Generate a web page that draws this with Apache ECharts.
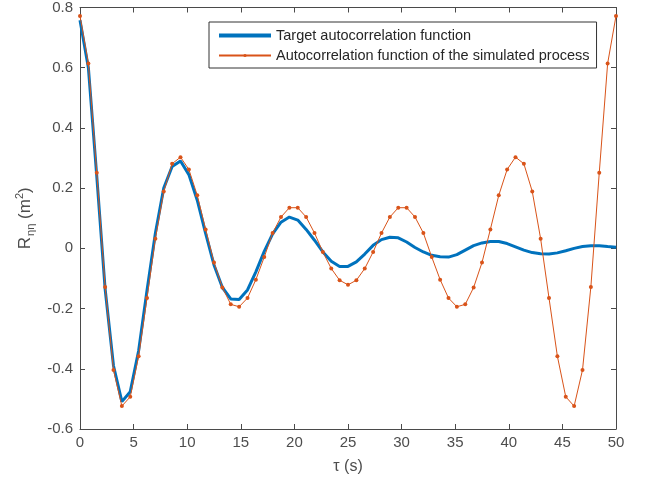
<!DOCTYPE html>
<html>
<head>
<meta charset="utf-8">
<script src="https://cdn.jsdelivr.net/npm/echarts@6/dist/echarts.min.js"></script>
<style>
  html, body { margin: 0; padding: 0; background: #fff; }
  #chart { width: 647px; height: 484px; }
</style>
</head>
<body>
<div id="chart"></div>
<script>
// Time lag tau (s), sampled every 50/64 s
const lags = [
  0.000, 0.781, 1.563, 2.344, 3.125, 3.906, 4.688, 5.469, 6.250, 7.031,
  7.813, 8.594, 9.375, 10.156, 10.938, 11.719, 12.500, 13.281, 14.063, 14.844,
  15.625, 16.406, 17.188, 17.969, 18.750, 19.531, 20.313, 21.094, 21.875, 22.656,
  23.438, 24.219, 25.000, 25.781, 26.563, 27.344, 28.125, 28.906, 29.688, 30.469,
  31.250, 32.031, 32.813, 33.594, 34.375, 35.156, 35.938, 36.719, 37.500, 38.281,
  39.063, 39.844, 40.625, 41.406, 42.188, 42.969, 43.750, 44.531, 45.313, 46.094,
  46.875, 47.656, 48.438, 49.219, 50.000
];

// Target autocorrelation function (m^2)
const targetR = [
  0.758, 0.600, 0.240, -0.135, -0.390, -0.509, -0.476, -0.340, -0.140, 0.050,
  0.200, 0.272, 0.290, 0.245, 0.160, 0.050, -0.055, -0.130, -0.168, -0.170,
  -0.138, -0.078, -0.010, 0.048, 0.087, 0.104, 0.094, 0.063, 0.027, -0.012,
  -0.043, -0.060, -0.060, -0.045, -0.019, 0.010, 0.029, 0.037, 0.035, 0.021,
  0.003, -0.012, -0.023, -0.028, -0.029, -0.021, -0.006, 0.009, 0.018, 0.023,
  0.023, 0.016, 0.005, -0.006, -0.014, -0.018, -0.019, -0.015, -0.008, 0.000,
  0.006, 0.009, 0.009, 0.006, 0.004
];

// Autocorrelation of the simulated process (m^2)
const simulatedR = [
  0.772, 0.614, 0.251, -0.128, -0.404, -0.524, -0.493, -0.358, -0.165, 0.032,
  0.189, 0.281, 0.303, 0.262, 0.176, 0.063, -0.047, -0.130, -0.186, -0.194,
  -0.165, -0.104, -0.029, 0.051, 0.104, 0.135, 0.135, 0.104, 0.051, -0.012,
  -0.067, -0.106, -0.121, -0.106, -0.067, -0.012, 0.051, 0.104, 0.135, 0.135,
  0.104, 0.051, -0.029, -0.104, -0.165, -0.194, -0.186, -0.130, -0.047, 0.063,
  0.176, 0.262, 0.303, 0.281, 0.189, 0.032, -0.165, -0.358, -0.493, -0.524,
  -0.404, -0.128, 0.251, 0.614, 0.772
];

const seriesNames = [
  'Target autocorrelation function',
  'Autocorrelation function of the simulated process'
];

const xTicks = { min: 0, max: 50, interval: 5 };
const yTicks = { min: -0.6, max: 0.8, interval: 0.2 };

const pair = (xs, ys) => xs.map((x, i) => [x, ys[i]]);

const axisGray = '#4a4a4a';
const labelGray = '#4d4d4d';
const blue = '#0072BD';
const orange = '#D95319';
const font = '"Liberation Sans", Arial, Helvetica, sans-serif';

function frameAxis(extra) {
  return Object.assign({
    type: 'value',
    axisLine: { show: true, onZero: false, lineStyle: { color: axisGray, width: 1 } },
    axisTick: { show: true, inside: true, length: 5, lineStyle: { color: axisGray } },
    splitLine: { show: false },
    axisLabel: { show: false }
  }, extra);
}

const chart = echarts.init(document.getElementById('chart'), null, { renderer: 'canvas' });

chart.setOption({
  backgroundColor: '#ffffff',
  animation: false,
  textStyle: { fontFamily: font },
  grid: { left: 80, right: 31, top: 7, bottom: 55, containLabel: false },
  legend: {
    orient: 'vertical',
    left: 209,
    top: 22,
    padding: [5, 7, 4, 9],
    itemGap: 3,
    itemWidth: 52,
    itemHeight: 4,
    backgroundColor: '#ffffff',
    borderColor: '#333333',
    borderWidth: 1,
    borderRadius: 0,
    textStyle: { color: '#262626', fontSize: 14.5, fontFamily: font, lineHeight: 17 },
    data: [
      { name: seriesNames[0], icon: 'rect', itemStyle: { color: blue } },
      { name: seriesNames[1] }
    ]
  },
  xAxis: [
    frameAxis(Object.assign({}, xTicks, {
      position: 'bottom',
      name: 'τ (s)',
      nameLocation: 'middle',
      nameGap: 30,
      nameTextStyle: { color: labelGray, fontSize: 16, fontFamily: font },
      axisLabel: { show: true, color: labelGray, fontSize: 15, margin: 6, fontFamily: font }
    })),
    frameAxis(Object.assign({}, xTicks, { position: 'top' }))
  ],
  yAxis: [
    frameAxis(Object.assign({}, yTicks, {
      position: 'left',
      name: '{r|R}{s|ηη}{r| (m}{p|2}{r|)}',
      nameLocation: 'middle',
      nameGap: 43,
      nameRotate: 90,
      nameTextStyle: {
        color: labelGray,
        fontSize: 17,
        fontFamily: font,
        rich: {
          r: { fontSize: 17, color: labelGray, fontFamily: font, lineHeight: 22, verticalAlign: 'middle' },
          s: { fontSize: 11, color: labelGray, fontFamily: font, padding: [11, 0, 0, 1] },
          p: { fontSize: 11, color: labelGray, fontFamily: font, padding: [0, 0, 10, 0] }
        }
      },
      axisLabel: {
        show: true, color: labelGray, fontSize: 15, margin: 7, fontFamily: font,
        formatter: v => (Math.abs(v) < 1e-9 ? '0' : String(+v.toFixed(1)))
      }
    })),
    frameAxis(Object.assign({}, yTicks, { position: 'right' }))
  ],
  series: [
    {
      name: seriesNames[0],
      type: 'line',
      data: pair(lags, targetR),
      showSymbol: false,
      symbol: 'none',
      lineStyle: { color: blue, width: 3 },
      itemStyle: { color: blue },
      z: 2
    },
    {
      name: seriesNames[1],
      type: 'line',
      data: pair(lags, simulatedR),
      symbol: 'circle',
      symbolSize: 4,
      showSymbol: true,
      lineStyle: { color: orange, width: 1 },
      itemStyle: { color: orange },
      z: 3
    }
  ]
});
</script>
</body>
</html>
